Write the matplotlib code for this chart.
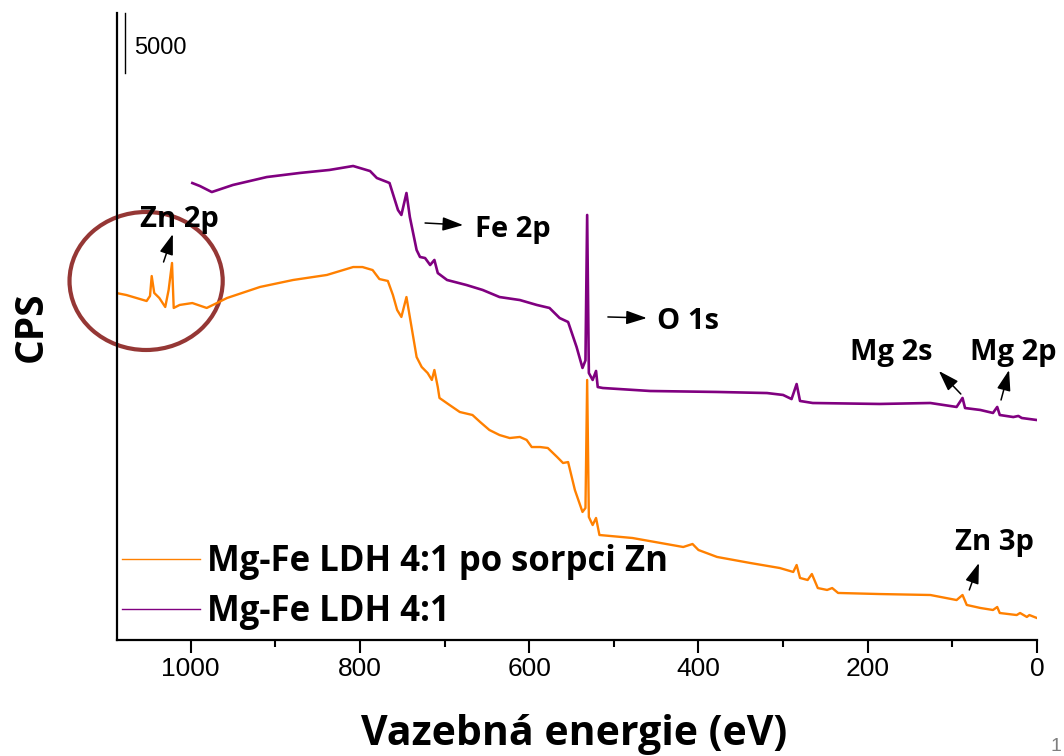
import matplotlib
matplotlib.use("Agg")
import matplotlib.pyplot as plt
from matplotlib.patches import Ellipse

# XPS survey spectra: binding energy (eV) and intensity (CPS, stacked)
energy_zn = [1088, 1076, 1064, 1052, 1048, 1046, 1043, 1037, 1030, 1026, 1022, 1020,
             1013, 998, 981, 969, 957, 918, 879, 839, 808, 797, 785, 777, 767, 761,
             756, 751, 745, 739, 733, 727, 720, 715, 712, 708, 706, 694, 682, 667,
             658, 647, 635, 623, 611, 603, 597, 587, 578, 567, 560, 554, 546, 537,
             533.5, 531.5, 529.5, 525, 521, 517, 478, 418, 407, 400, 378, 339, 304,
             288, 284, 280, 271, 266, 259, 248, 242, 235, 186, 126, 95, 88, 83, 67,
             52, 47, 44, 24, 20, 12, 9, 0]
cps_zn = [28920, 28750, 28500, 28250, 28670, 30330, 28920, 28500, 27750, 29170, 31420, 27670,
          27920, 28080, 27670, 28080, 28500, 29420, 30000, 30420, 31080, 31080, 30830, 30080,
          29920, 28750, 27500, 26920, 28580, 26080, 23580, 22750, 22250, 21670, 22500, 21080,
          20170, 19580, 19000, 18750, 18170, 17500, 17080, 16830, 16920, 16670, 16080, 16080,
          16000, 15250, 14750, 14830, 12500, 10670, 11000, 21670, 10250, 9580, 10170, 8750,
          8500, 7750, 8000, 7500, 6920, 6420, 6000, 5670, 6250, 5170, 5000, 5500, 4330,
          4170, 4330, 3920, 3830, 3750, 3330, 3750, 2920, 2670, 2500, 2750, 2250, 2080,
          2250, 1920, 2080, 1830]

energy_ldh = [998, 989, 975, 950, 910, 871, 836, 808, 788, 780, 768, 765, 755, 751, 745,
              741, 733, 729, 723, 717, 712, 708, 697, 674, 655, 635, 611, 591, 576, 564,
              554, 544, 537, 533.5, 531.5, 529.5, 525, 521, 519, 513, 457, 378, 319, 300,
              290, 284, 280, 265, 186, 126, 95, 88, 85, 67, 52, 47, 44, 28, 22, 18, 0]
cps_ldh = [38080, 37830, 37330, 37920, 38580, 38920, 39170, 39500, 39080, 38500, 38170,
           38080, 35830, 35420, 37250, 35250, 32500, 31920, 31830, 31250, 31670, 30580,
           30000, 29580, 29170, 28580, 28330, 27920, 27670, 26830, 26500, 24420, 22670,
           23300, 35420, 22250, 21670, 22420, 21080, 21000, 20750, 20670, 20580, 20420,
           20080, 21330, 19920, 19750, 19670, 19750, 19420, 20170, 19330, 19170, 18920,
           19420, 18750, 18580, 18670, 18500, 18330]

series_labels = ["Mg-Fe LDH 4:1 po sorpci Zn", "Mg-Fe LDH 4:1"]
series_colors = ["#FF8000", "#800080"]

major_ticks = [1000, 800, 600, 400, 200, 0]
minor_ticks = [900, 700, 500, 300, 100]

scale_bar = 5000

# peak labels: (text, text position, arrow tail, arrow head)
peak_labels = [
    ("Zn 2p", (1060, 34420), (1032, 31500), (1021, 33830)),
    ("Fe 2p", (664, 33580), (723, 34750), (678, 34580)),
    ("O 1s", (449, 25920), (507, 26920), (461, 26830)),
    ("Mg 2s", (221, 23330), (90, 20500), (116, 22420)),
    ("Mg 2p", (79, 23330), (42.5, 20000), (33, 22500)),
    ("Zn 3p", (97, 7500), (80, 4170), (68.6, 6420)),
]

BOLD = dict(family="Open Sans", weight="bold")

fig = plt.figure(figsize=(10.64, 7.56), dpi=100)
ax = fig.add_axes([117 / 1064, 1 - 640 / 756, 920 / 1064, 627 / 756])

ax.plot(energy_zn, cps_zn, color=series_colors[0], lw=1.7, label=series_labels[0])
ax.plot(energy_ldh, cps_ldh, color=series_colors[1], lw=1.9, label=series_labels[1])

ax.set_xlim(1087, 0)
ax.set_ylim(0, 52250)

for side in ("top", "right"):
    ax.spines[side].set_visible(False)
for side in ("left", "bottom"):
    ax.spines[side].set_linewidth(1.6)

ax.set_xticks(major_ticks)
ax.set_xticks(minor_ticks, minor=True)
ax.set_xticklabels([str(t) for t in major_ticks], family="Liberation Sans", fontsize=19)
ax.tick_params(axis="x", which="major", direction="out", length=9, width=1.5, pad=3)
ax.tick_params(axis="x", which="minor", direction="out", length=5, width=1.5)
ax.set_yticks([])

ax.set_xlabel("Vazebná energie (eV)", fontsize=29.5, va="baseline", **BOLD)
ax.xaxis.set_label_coords(0.4967, -0.1675)
ax.set_ylabel("CPS", fontsize=28, va="center", **BOLD)
ax.yaxis.set_label_coords(-0.0935, 0.5)

# intensity scale bar
ax.plot([1077, 1077], [52250 - scale_bar, 52250], color="black", lw=1, clip_on=False)
ax.text(1067, 48830, f"{scale_bar}", family="Liberation Sans",
        fontsize=17, va="baseline", ha="left")

for text, tpos, tail, head in peak_labels:
    ax.annotate("", xy=head, xytext=tail,
                arrowprops=dict(arrowstyle="-|>,head_length=0.9,head_width=0.3",
                                color="black", lw=1.1, shrinkA=0, shrinkB=0,
                                mutation_scale=14),
                annotation_clip=False)
    ax.text(tpos[0], tpos[1], text, fontsize=21, ha="left", va="baseline", **BOLD)

# highlight of the Zn 2p region
ax.add_patch(Ellipse((1052.6, 29917), 181, 11500, fill=False, edgecolor="#953735",
                     lw=3, clip_on=False))

leg = ax.legend(loc="center left", bbox_to_anchor=(0.0054, 0.0845), frameon=False,
                prop=dict(family="Open Sans", weight="bold", size=25), handlelength=2.25,
                handletextpad=0.2, labelspacing=0.4, borderpad=0, borderaxespad=0)
for line in leg.get_lines():
    line.set_linewidth(1.0)

fig.text(1050 / 1064, 1 / 756, "1", color="#7f7f7f", fontsize=14,
         family="Liberation Sans", ha="left", va="bottom")

fig.savefig("out.png", dpi=100)
